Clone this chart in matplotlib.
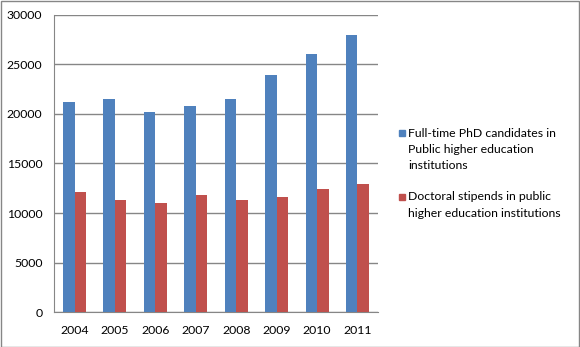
import numpy as np
import matplotlib.pyplot as plt
from matplotlib.patches import Rectangle

# Chart data
years = ['2004', '2005', '2006', '2007', '2008', '2009', '2010', '2011']
phd_candidates = [21200, 21500, 20200, 20800, 21500, 23900, 26000, 28000]
stipends = [12100, 11300, 11000, 11800, 11300, 11600, 12400, 12900]
labels = ['Full-time PhD candidates in\nPublic higher education\ninstitutions',
          'Doctoral stipends in public\nhigher education institutions']
colors = ['#4f81bd', '#c0504d']

plt.rcParams['font.family'] = ['Lato', 'DejaVu Sans']

W, H = 580, 347
fig = plt.figure(figsize=(W / 100, H / 100), dpi=100)
ax = fig.add_axes([54.3 / W, 1 - 312.3 / H, (377.7 - 54.3) / W, (312.3 - 14.7) / H])

x = np.arange(len(years))
width = 1 / 3.5
ax.bar(x - width / 2, phd_candidates, width, color=colors[0], zorder=3)
ax.bar(x + width / 2, stipends, width, color=colors[1], zorder=3)

ax.set_xlim(-0.5, len(years) - 0.5)
ax.set_ylim(0, 30000)
ax.set_yticks(range(0, 30001, 5000))
ax.set_xticks(x)
ax.set_xticklabels(years)
ax.yaxis.grid(True, color='#868686', linewidth=1, zorder=0)
for side in ['top', 'right']:
    ax.spines[side].set_visible(False)
for side in ['left', 'bottom']:
    ax.spines[side].set_color('#868686')
ax.tick_params(axis='both', length=0, labelsize=8.8, colors='black')
ax.tick_params(axis='y', pad=8.5)
ax.tick_params(axis='x', pad=9)

# legend drawn by hand so the marker sits on the first text line (Excel style)
entry_tops = [133, 197]
line_step = 16.5
for label, color, y0 in zip(labels, colors, entry_tops):
    fig.patches.append(Rectangle((399 / W, 1 - (y0 + 3) / H), 6 / W, 6 / H,
                                 transform=fig.transFigure, color=color))
    for i, line in enumerate(label.split('\n')):
        fig.text(408 / W, 1 - (y0 + i * line_step) / H, line,
                 fontsize=8.8, va='center', ha='left')

# outer chart border
fig.patches.append(Rectangle((0.5 / W, 0.5 / H), 1 - 1.5 / W, 1 - 1.5 / H,
                             transform=fig.transFigure, fill=False,
                             edgecolor='#868686', linewidth=1))

fig.savefig('out.png', dpi=100)
